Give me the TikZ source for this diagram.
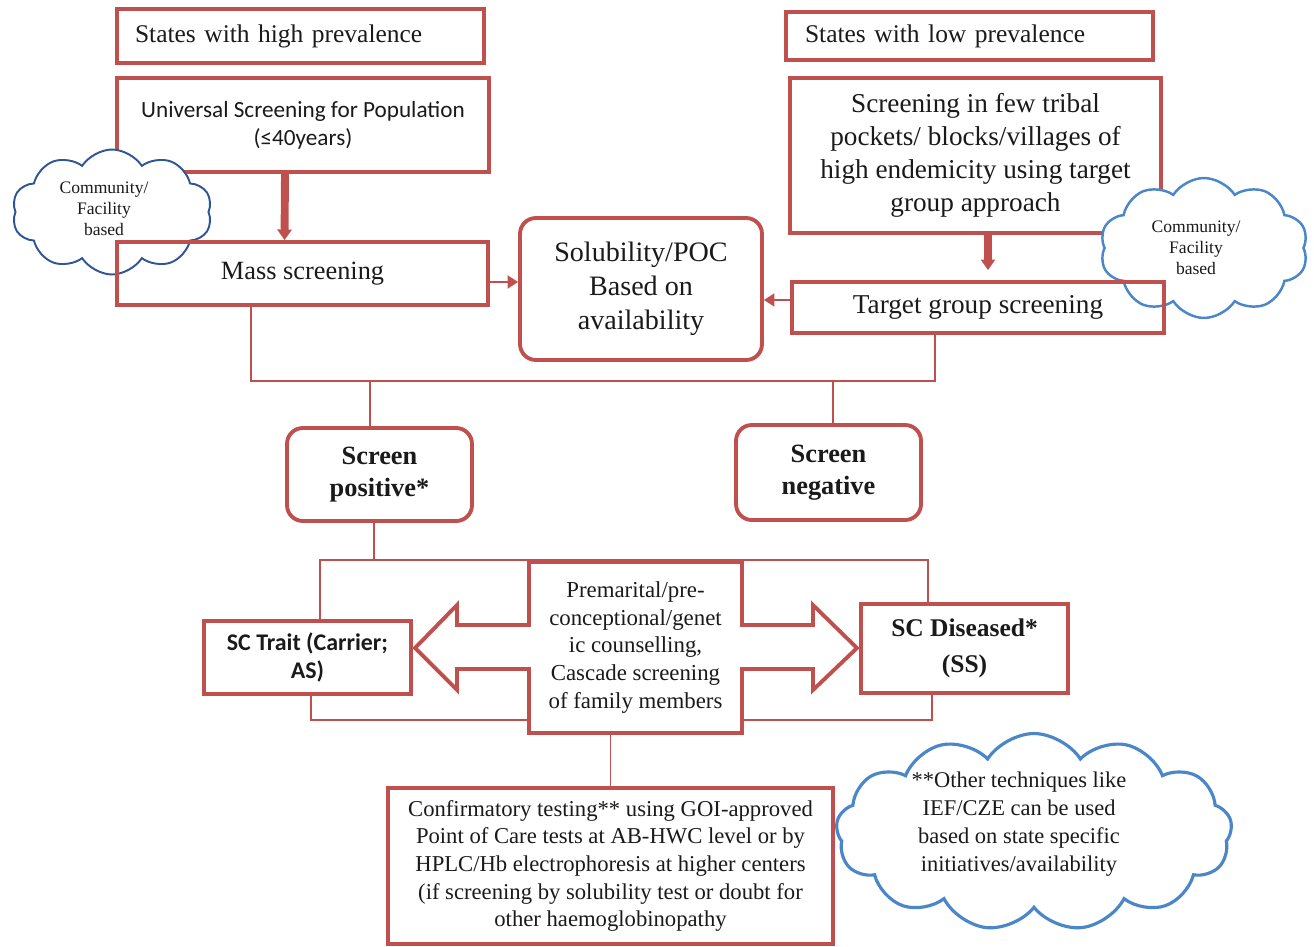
\documentclass[tikz,border=0pt]{standalone}
\usepackage{fontspec}
\setmainfont{Liberation Serif}
\newfontfamily\calibri{Carlito}
\usetikzlibrary{arrows.meta,calc,shapes.symbols}
\definecolor{boxred}{HTML}{C0504D}
\definecolor{puffdark}{HTML}{2F5597}
\definecolor{pufflight}{HTML}{4A86C8}
\definecolor{ink}{HTML}{1A1A1A}
\pgfdeclarelayer{background}
\pgfsetlayers{background,main}
\tikzset{
  box/.style={draw=boxred, line width=2.2pt, align=center, inner sep=2pt, text=ink},
  roundbox/.style={box, rounded corners=9pt},
  puff/.style={cloud, cloud puffs=10, cloud puff arc=115, draw=puffdark, line width=1.1pt,
               fill=white, inner sep=0pt},
  pufftext/.style={align=center, text=ink, font=\fontsize{10}{12}\selectfont},
  link/.style={draw=boxred, line width=0.85pt},
  arrow/.style={link, -{Triangle[length=6pt,width=7.5pt]}},
  fatarrow/.style={draw=boxred, line width=4.5pt, -{Triangle[length=6pt,width=8pt]}}
}

\begin{document}
\begin{tikzpicture}[x=0.02cm,y=-0.02cm]
        \useasboundingbox (0,0) rectangle (1314,946);

        % high prevalence column
        \node[box, fill=white, text width=6.62cm, inner xsep=0.36cm, minimum height=1.08cm, align=left,
              font=\fontsize{14.5}{18}\selectfont] (high) at (300.5,36) {States with high prevalence};
        \node[box, fill=white, minimum width=7.44cm, minimum height=1.88cm,
              font=\calibri\fontsize{13.2}{16}\selectfont] (univ) at (303,125)
          {Universal Screening for Population\\(≤40years)};
        \node[puff, minimum width=4cm, minimum height=2.5cm,
              label={[pufftext, xshift=-0.16cm, yshift=0.06cm]center:{Community/\\Facility\\based}}] (cloudL) at (112,212) {};
        \node[box, minimum width=7.42cm, minimum height=1.26cm,
              font=\fontsize{15}{18}\selectfont] (mass) at (302.5,273.5) {Mass screening};

        % method
        \node[roundbox, fill=white, minimum width=4.84cm, minimum height=2.84cm,
              font=\fontsize{16}{19.3}\selectfont] (sol) at (641,289) {Solubility/POC\\Based on\\availability};

        % low prevalence column
        \node[box, fill=white, text width=6.58cm, inner xsep=0.38cm, minimum height=0.96cm, align=left,
              font=\fontsize{14.5}{18}\selectfont] (low) at (969.5,36) {States with low prevalence};
        \node[box, fill=white, minimum width=7.42cm, minimum height=3.1cm,
              font=\fontsize{15.5}{18.7}\selectfont] (tribal) at (975.5,155.5)
          {Screening in few tribal\\pockets/ blocks/villages of\\high endemicity using target\\group approach};
        \node[puff, draw=pufflight, line width=1.4pt, minimum width=4.16cm, minimum height=2.8cm,
              label={[pufftext, xshift=-0.16cm]center:{Community/\\Facility\\based}}] (cloudR) at (1204,248) {};
        \node[box, minimum width=7.44cm, minimum height=1.02cm,
              font=\fontsize{15.5}{18}\selectfont] (target) at (978,307.5) {Target group screening};

        % results
        \node[roundbox, fill=white, minimum width=3.7cm, minimum height=1.86cm,
              font=\bfseries\fontsize{15}{18.1}\selectfont] (pos) at (379.5,474.5) {Screen\\positive*};
        \node[roundbox, fill=white, minimum width=3.7cm, minimum height=1.9cm,
              font=\bfseries\fontsize{15}{18.1}\selectfont] (neg) at (828.5,472.5) {Screen\\negative};

        \node[box, fill=white, minimum width=4.14cm, minimum height=1.46cm,
              font=\calibri\bfseries\fontsize{13.6}{16.4}\selectfont] (trait) at (307.5,657.5) {SC Trait (Carrier;\\AS)};
        \node[box, fill=white, minimum width=4.14cm, minimum height=1.78cm,
              font=\bfseries\fontsize{14.5}{20.4}\selectfont] (dis) at (964.5,648.5) {SC Diseased*\\(SS)};
        \node[minimum width=4.26cm, minimum height=3.42cm, inner sep=0pt, outer sep=0pt, align=center,
              text=ink, font=\fontsize{13}{15.9}\selectfont] (counsel) at (635.5,647.5)
          {Premarital/pre-\\conceptional/genet\\ic counselling,\\Cascade screening\\of family members};

        \node[box, fill=white, minimum width=8.9cm, minimum height=3.12cm,
              font=\fontsize{12.9}{15.7}\selectfont] (confirm) at (610.5,866)
          {Confirmatory testing** using GOI-approved\\Point of Care tests at AB-HWC level or by\\HPLC/Hb electrophoresis at higher centers\\(if screening by solubility test or doubt for\\other haemoglobinopathy};
        \node[puff, draw=pufflight, line width=1.8pt, cloud puffs=13, minimum width=7.92cm, minimum height=3.94cm,
              label={[pufftext, xshift=-0.3cm, yshift=0.16cm, font=\fontsize{12.8}{15.9}\selectfont]center:{**Other techniques like\\IEF/CZE can be used\\based on state specific\\initiatives/availability}}]
          (cloudB) at (1034,832) {};

        \coordinate (bus) at (640,381);
        \coordinate (split) at (640,560);
        \coordinate (rejoin) at (640,720);

        \begin{pgfonlayer}{background}
        \draw[link] ([xshift=-1.03cm]mass.south) |- ([xshift=-0.86cm]target.south |- bus)
          -- ([xshift=-0.86cm]target.south);
        \draw[link] ([xshift=-0.19cm]pos.north) -- ([xshift=-0.19cm]pos.north |- bus);
        \draw[link] ([xshift=0.09cm]neg.north) -- ([xshift=0.09cm]neg.north |- bus);
        \draw[link] ([xshift=-0.11cm]pos.south) -- ([xshift=-0.11cm]pos.south |- split);
        \draw[link] ([xshift=0.25cm]trait.north) |- ([xshift=-0.73cm]dis.north |- split)
          -- ([xshift=-0.73cm]dis.north);
        \draw[link] ([xshift=0.07cm]trait.south) |- ([xshift=-0.65cm]dis.south |- rejoin)
          -- ([xshift=-0.65cm]dis.south);
        \draw[link] (confirm.north) -- (confirm.north |- counsel.south);
        % double block arrow round the counselling text
        \draw[box, fill=white, line join=miter] (counsel.north west) -- (counsel.north east) -- ++(0,63) -- ++(71,0)
          -- ++(0,-20) -- ++(44,43) -- ++(-44,42) -- ++(0,-21) -- ++(-71,0) -- (counsel.south east)
          -- (counsel.south west) -- ++(0,-64) -- ++(-72,0) -- ++(0,21) -- ++(-42,-42) -- ++(42,-43)
          -- ++(0,20) -- ++(72,0) -- cycle;
        \end{pgfonlayer}

        \draw[fatarrow] ([xshift=-0.36cm]univ.south) -- ([xshift=-0.36cm]mass.north);
        \draw[fatarrow, shorten >=0.2cm] ([xshift=0.25cm]tribal.south) -- ([xshift=0.25cm]tribal.south |- target.north);
        \draw[arrow] ([yshift=-0.17cm]mass.east) -- ([yshift=-0.17cm]mass.east -| sol.west);
        \draw[arrow] ([yshift=0.15cm]target.west) -- ([yshift=0.15cm]target.west -| sol.east);
\end{tikzpicture}
\end{document}
